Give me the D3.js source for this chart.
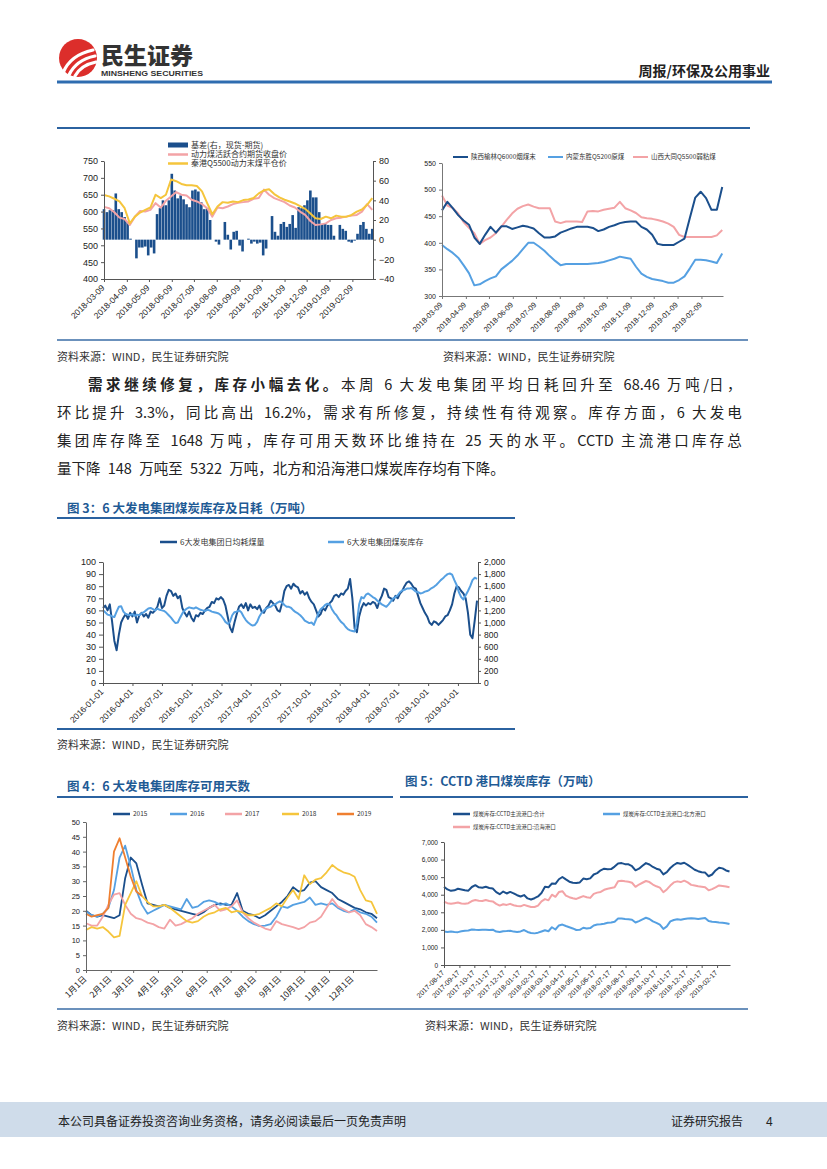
<!DOCTYPE html>
<html><head><meta charset="utf-8">
<script src="https://cdn.jsdelivr.net/npm/d3@7"></script>
<style>body{margin:0;background:#fff}svg{display:block}</style>
</head><body>
<svg id="page" width="827" height="1169"></svg>
<script>
// ---------------- DATA ----------------
// Chart 1: basis & coal prices (from 2018-03-09)
const c1Start = "2018-03-09";
const c1End = "2019-03-09";
const c1Ticks = ["2018-03-09","2018-04-09","2018-05-09","2018-06-09","2018-07-09","2018-08-09","2018-09-09","2018-10-09","2018-11-09","2018-12-09","2019-01-09","2019-02-09"];
const c1Names = ["基差(右，现货-期货)","动力煤活跃合约期货收盘价","秦港Q5500动力末煤平仓价"];
const c1Basis = [31,28,30,30,47,31,28,23,18,1,0,-19,-8,-8,-7,-16,-8,-14,26,32,40,35,40,67,50,42,45,41,36,33,50,51,49,38,31,32,20,0,-2,-5,0,18,5,-10,8,9,-6,-12,0,1,-4,-2,-4,-3,-16,-9,0,24,8,4,16,18,13,16,25,12,33,32,35,40,50,43,43,28,16,16,15,15,4,0,15,11,9,-2,-3,-1,6,15,18,11,6,11];
const c1Futures = [614,610,598,582,578,560,585,602,600,605,625,612,632,645,658,650,648,635,630,622,610,585,612,610,615,622,626,628,630,638,640,665,650,640,634,628,618,612,600,590,572,560,562,565,575,580,582,585,588,590,600,622,605];
const c1Spot = [649,645,638,630,610,565,585,597,605,612,650,640,650,695,690,682,678,678,676,660,625,592,615,628,626,630,628,634,636,640,654,663,666,652,642,635,630,624,616,608,594,580,578,585,580,588,585,585,590,600,606,620,640];

// Chart 2: pit-mouth prices (weekly from 2018-03-09)
const c2Names = ["陕西榆林Q6000烟煤末","内蒙东胜Q5200原煤","山西大同Q5500弱粘煤"];
const c2Shaanxi = [461,477,465,452,442,434,410,398,415,430,419,431,431,426,429,432,430,427,418,410,410,412,419,423,427,430,430,430,428,422,425,430,433,437,439,440,440,430,425,415,398,396,396,396,402,408,447,485,496,484,462,462,505];
const c2Neimeng = [396,388,381,372,358,343,320,322,328,333,337,350,358,366,376,388,400,400,393,385,375,366,358,360,360,360,360,360,361,362,364,367,370,374,372,370,355,342,336,332,330,328,325,325,330,337,352,368,368,367,365,362,380];
const c2Shanxi = [489,470,465,455,439,428,418,398,405,410,418,430,443,455,464,469,472,468,465,465,465,440,437,440,440,440,439,459,460,459,462,464,466,477,465,461,456,448,446,445,443,440,436,430,415,411,411,411,411,411,411,414,424];

// Chart 3: 6 power groups consumption / stock (weekly from 2016-01-01)
const c3Start = "2016-01-01";
const c3End = "2019-03-04";
const c3Ticks = ["2016-01-01","2016-04-01","2016-07-01","2016-10-01","2017-01-01","2017-04-01","2017-07-01","2017-10-01","2018-01-01","2018-04-01","2018-07-01","2018-10-01","2019-01-01"];
const c3Names = ["6大发电集团日均耗煤量","6大发电集团煤炭库存"];
const c3Consumption = [62,64,60,65,51,35,27,40,50,54,57,53,58,55,59,50,56,58,55,57,54,59,58,60,63,70,62,64,72,77,76,72,74,70,72,62,58,55,59,54,51,56,55,58,57,60,62,63,67,66,70,69,71,69,64,55,46,42,50,57,63,65,62,66,60,65,62,63,61,64,59,58,62,64,68,66,64,60,59,66,76,80,81,78,82,80,79,74,76,73,75,70,67,65,60,55,57,62,60,64,66,68,72,73,71,74,73,76,78,86,70,45,42,55,62,66,64,66,65,67,66,62,68,72,78,77,71,70,68,72,70,74,76,80,83,84,82,79,78,72,66,62,58,55,50,48,51,50,48,50,52,55,56,60,65,74,80,79,76,74,70,58,40,37,52,68];
const c3Stock = [1200,1170,1130,1120,1100,1090,1180,1260,1270,1180,1140,1130,1120,1140,1110,1130,1120,1150,1170,1200,1230,1240,1220,1200,1230,1210,1200,1190,1160,1120,1080,1030,990,1000,1080,1150,1200,1230,1250,1240,1230,1250,1230,1210,1200,1190,1210,1200,1180,1170,1160,1150,1120,1070,1010,980,1010,1120,1170,1180,1200,1170,1100,1040,1000,970,950,960,1010,1100,1160,1200,1230,1250,1260,1290,1300,1330,1350,1330,1290,1260,1260,1240,1200,1170,1150,1120,1080,1030,1010,990,1000,960,1050,1150,1220,1250,1290,1310,1300,1220,1160,1120,1060,1010,980,930,890,870,860,850,1000,1300,1420,1400,1460,1480,1450,1420,1400,1360,1330,1300,1280,1260,1300,1350,1400,1420,1450,1500,1530,1540,1560,1560,1570,1540,1510,1500,1480,1490,1510,1520,1540,1570,1590,1620,1660,1700,1730,1770,1800,1810,1790,1700,1620,1500,1420,1380,1450,1520,1600,1700,1740,1720];

// Chart 4: stock days by year (weekly from Jan 1)
const c4Years = ["2015","2016","2017","2018","2019"];
const c4MonthLabels = ["1月1日","2月1日","3月1日","4月1日","5月1日","6月1日","7月1日","8月1日","9月1日","10月1日","11月1日","12月1日"];
const c4y2015 = [20,18.5,18,18.5,18,17.5,18.5,31,38,36,29,22.5,22,21.5,22,21,20.5,20,19.5,19,18.5,19.5,21,22,22.5,22,22,26,20,19,18.5,17.5,18.5,20,21.5,23,25,28,26.5,27,29.5,30,28,27,26,24,23,22,21,20.5,19.5,19,17.5];
const c4y2016 = [19.8,18.5,18,19,21,27,38,42,35,27,22,19,20,21,22,21.5,21,20.5,24,21,21.5,23,23.5,23,22,22.5,21.5,20,18,16.5,15.5,14.8,15,15.5,18,21.5,21,22,22.5,23,24.5,22,22.5,22,22.5,21,20,19.5,20.5,19.5,19,18,16];
const c4y2017 = [15.8,15,15,18,22,25.5,26,22,19,17.5,17,16,15.5,14.5,14,17,15,15.5,16.5,17.5,19,20,21,22,20,20.5,21.5,23.5,19.5,17.5,16,15,14,13.5,16.5,15.5,15,14.5,13.8,14.5,16,16.5,18,21,24,21.5,20.5,19.5,20,18.5,15.5,14.5,13.2];
const c4y2018 = [13.5,14.5,14,14.5,13,11,11.5,22,26,30,25,23,21.5,21.5,22,21,19.5,18,16.5,16,16.5,18,19,19.5,20.5,21,19.5,20,19.5,18.5,18.5,19,20,21,22.5,21.5,24.5,27,24,32,29,30.5,31,33,35.5,34,33,32.5,31.5,27,23.5,23,19];
const c4y2019 = [19,18,18.5,19,21,40,44.5,38,31.5,26.5,25];

// Chart 5: CCTD port stocks (weekly from 2017-08-17)
const c5Start = "2017-08-17";
const c5End = "2019-03-15";
const c5Ticks = ["2017-08-17","2017-09-17","2017-10-17","2017-11-17","2017-12-17","2018-01-17","2018-02-17","2018-03-17","2018-04-17","2018-05-17","2018-06-17","2018-07-17","2018-08-17","2018-09-17","2018-10-17","2018-11-17","2018-12-17","2019-01-17","2019-02-17"];
const c5Names = ["煤炭库存:CCTD主流港口:合计","煤炭库存:CCTD主流港口:北方港口","煤炭库存:CCTD主流港口:沿海港口"];
const c5Total = [4450,4300,4220,4250,4340,4300,4250,4230,4440,4540,4420,4400,4450,4380,4350,4150,4030,4180,4070,4160,4080,3970,3900,3980,3790,3730,3800,3900,4100,4450,4420,4640,4620,4880,5010,4870,4740,4680,4670,4700,4920,4880,4930,5150,5230,5390,5480,5450,5460,5600,5780,5800,5740,5730,5620,5390,5480,5650,5800,5720,5580,5480,5420,5160,5290,5520,5690,5810,5760,5820,5700,5560,5420,5340,5280,5260,5050,5150,5380,5540,5500,5380,5320];
const c5North = [1900,1880,1900,1880,1870,1920,1950,1960,2020,2000,1990,2000,2010,1990,2010,1900,1880,1920,1930,1950,1900,1880,1910,1990,1880,1820,1800,1840,1910,1980,1920,2150,2020,2250,2300,2220,2150,2080,1990,2000,2120,2080,2100,2250,2300,2320,2350,2400,2420,2460,2640,2650,2620,2600,2580,2420,2500,2600,2690,2620,2480,2400,2300,2050,2200,2480,2560,2600,2580,2620,2650,2660,2640,2620,2650,2680,2500,2460,2450,2420,2400,2380,2330];
const c5Coastal = [3600,3520,3480,3520,3560,3500,3480,3520,3640,3700,3660,3640,3700,3640,3620,3480,3380,3460,3420,3480,3400,3360,3340,3420,3360,3300,3300,3380,3620,3750,3680,4000,3880,4150,4200,3950,3860,3800,3760,3840,3920,3860,3820,4050,4120,4160,4280,4340,4380,4420,4760,4790,4760,4740,4680,4450,4580,4680,4780,4720,4580,4480,4400,4140,4300,4520,4700,4760,4720,4800,4700,4560,4520,4480,4450,4420,4250,4320,4420,4530,4500,4470,4430];

// ---------------- RENDER ----------------
const svg = d3.select("#page");
const LAT = "'Liberation Sans','Noto Sans CJK SC',sans-serif";
const CJK = "'Noto Sans CJK SC','Liberation Sans',sans-serif";
const parse = d3.timeParse("%Y-%m-%d");
const BLUE = "#1b4f8c", LBLUE = "#55a0e2", PINK = "#f3a3a6", YEL = "#f5c53c", ORG = "#ef7f30";
const TITLE = "#1f5b95", RULE = "#2b62a0";

function txt(x, y, s, o = {}) {
  return svg.append("text").attr("x", x).attr("y", y).text(s)
    .attr("font-size", o.size || 11).attr("font-family", o.family || CJK)
    .attr("fill", o.fill || "#222").attr("font-weight", o.weight || "normal")
    .attr("text-anchor", o.anchor || "start");
}
function rule(x1, x2, y, w, c) {
  svg.append("line").attr("x1", x1).attr("x2", x2).attr("y1", y).attr("y2", y)
    .attr("stroke", c || RULE).attr("stroke-width", w || 2);
}
function styleAxis(g, size, color) {
  g.attr("font-family", LAT).attr("font-size", size);
  g.select(".domain").attr("stroke", color || "#555");
  g.selectAll(".tick line").attr("stroke", color || "#555");
  g.selectAll(".tick text").attr("fill", "#222");
}
function rotate(g, off) {
  g.selectAll(".tick text").attr("text-anchor", "end").attr("x", -2).attr("y", 0)
    .attr("dy", "0.35em").attr("transform", `translate(0,${off}) rotate(-45)`);
}
function weekDates(start, n, step) {
  return d3.range(n).map(i => d3.timeDay.offset(parse(start), (step || 7) * i));
}
function drawLine(vals, dates, x, y, color, w) {
  const line = d3.line().x((d, i) => x(dates[i])).y(d => y(d));
  svg.append("path").datum(vals).attr("d", line).attr("fill", "none")
    .attr("stroke", color).attr("stroke-width", w || 2).attr("stroke-linejoin", "round");
}
function legLine(x, y, len, color, label, size, w) {
  svg.append("line").attr("x1", x).attr("x2", x + len).attr("y1", y).attr("y2", y)
    .attr("stroke", color).attr("stroke-width", w || 2.5);
  txt(x + len + 3, y + size * 0.36, label, { size: size, fill: "#333" });
}

// ---- Header ----
svg.append("circle").attr("cx", 78).attr("cy", 58).attr("r", 19).attr("fill", "#dc2e2b");
[[63, 73, 70, 55, 93, 50], [69, 75, 76, 60, 95, 56], [75, 76, 81, 65, 96, 62]].forEach(p => {
  svg.append("path").attr("d", `M${p[0]},${p[1]} Q${p[2]},${p[3]} ${p[4]},${p[5]}`)
    .attr("fill", "none").attr("stroke", "#fff").attr("stroke-width", 3.2).attr("stroke-linecap", "round");
});
txt(101, 64, "民生证券", { size: 23, weight: 900, fill: "#333" });
txt(101, 76, "MINSHENG SECURITIES", { size: 8, weight: "bold", fill: "#333", family: LAT }).attr("textLength", 102).attr("lengthAdjust", "spacingAndGlyphs");
txt(770, 76, "周报/环保及公用事业", { size: 14, weight: "bold", anchor: "end", fill: "#222" });
rule(57, 772, 82, 3, "#2e6cb0");
rule(57, 750, 128, 2);

// ---- Chart 1 ----
{
  const x = d3.scaleTime().domain([parse(c1Start), parse(c1End)]).range([104, 373]);
  const yL = d3.scaleLinear().domain([400, 750]).range([279, 161]);
  const yR = d3.scaleLinear().domain([-40, 80]).range([279, 161]);
  const barDates = weekDates(c1Start, c1Basis.length, 4);
  svg.append("g").selectAll("rect").data(c1Basis).join("rect")
    .attr("x", (d, i) => x(barDates[i]) - 1.3).attr("width", 2.6)
    .attr("y", d => yR(Math.max(0, d))).attr("height", d => Math.abs(yR(d) - yR(0)))
    .attr("fill", BLUE);
  const lineDates = weekDates(c1Start, c1Spot.length, 7);
  drawLine(c1Futures, lineDates, x, yL, PINK, 2);
  drawLine(c1Spot, lineDates, x, yL, YEL, 2);
  const gl = svg.append("g").attr("transform", "translate(104,0)")
    .call(d3.axisLeft(yL).tickValues(d3.range(400, 751, 50)).tickSize(3).tickSizeOuter(0));
  styleAxis(gl, 9);
  const gr = svg.append("g").attr("transform", "translate(373,0)")
    .call(d3.axisRight(yR).tickValues(d3.range(-40, 81, 20)).tickSize(3).tickSizeOuter(0));
  styleAxis(gr, 9);
  const gx = svg.append("g").attr("transform", "translate(0,279)")
    .call(d3.axisBottom(x).tickValues(c1Ticks.map(parse)).tickFormat(d3.timeFormat("%Y-%m-%d")).tickSize(3).tickSizeOuter(0));
  styleAxis(gx, 8.5);
  rotate(gx, 6);
  svg.append("rect").attr("x", 168).attr("y", 142.5).attr("width", 20).attr("height", 5).attr("fill", BLUE);
  txt(191, 148, c1Names[0], { size: 8, fill: "#333" });
  legLine(168, 154.5, 20, PINK, c1Names[1], 8, 2.5);
  legLine(168, 163.5, 20, YEL, c1Names[2], 8, 2.5);
}

// ---- Chart 2 ----
{
  const x = d3.scaleTime().domain([parse(c1Start), parse(c1End)]).range([442, 723]);
  const y = d3.scaleLinear().domain([300, 550]).range([296, 163]);
  const dates = weekDates(c1Start, c2Shaanxi.length, 7);
  drawLine(c2Shanxi, dates, x, y, PINK, 2);
  drawLine(c2Neimeng, dates, x, y, LBLUE, 2);
  drawLine(c2Shaanxi, dates, x, y, BLUE, 2);
  const gl = svg.append("g").attr("transform", "translate(442,0)")
    .call(d3.axisLeft(y).tickValues(d3.range(300, 551, 50)).tickSize(3).tickSizeOuter(0));
  styleAxis(gl, 7, "#777");
  const gx = svg.append("g").attr("transform", "translate(0,296)")
    .call(d3.axisBottom(x).tickValues(c1Ticks.map(parse)).tickFormat(d3.timeFormat("%Y-%m-%d")).tickSize(3).tickSizeOuter(0));
  styleAxis(gx, 7.5, "#777");
  rotate(gx, 6);
  legLine(453, 157, 15, BLUE, c2Names[0], 6.5, 2);
  legLine(548, 157, 15, LBLUE, c2Names[1], 6.5, 2);
  legLine(633, 157, 15, PINK, c2Names[2], 6.5, 2);
}
rule(57, 748, 340, 1.5, "#3a6ca6");
txt(57, 361, "资料来源：WIND，民生证券研究院", { size: 11, fill: "#333" });
txt(443, 361, "资料来源：WIND，民生证券研究院", { size: 11, fill: "#333" });

// ---- Paragraph (justified by spacing CJK glyphs only) ----
{
  const lines = [
    [["需求继续修复，库存小幅去化。", "bold"], ["本周 6 大发电集团平均日耗回升至 68.46 万吨/日，", "normal"]],
    [["环比提升 3.3%，同比高出 16.2%，需求有所修复，持续性有待观察。库存方面，6 大发电", "normal"]],
    [["集团库存降至 1648 万吨，库存可用天数环比维持在 25 天的水平。CCTD 主流港口库存总", "normal"]],
    [["量下降 148 万吨至 5322 万吨，北方和沿海港口煤炭库存均有下降。", "normal"]]
  ];
  const ys = [390, 418, 446, 474];
  const isCJK = ch => /[\u3000-\u9fff\uff00-\uffef]/.test(ch);
  lines.forEach((ln, i) => {
    const x0 = i === 0 ? 88 : 57;
    const t = svg.append("text").attr("x", x0).attr("y", ys[i]).attr("font-size", 14.5)
      .attr("font-family", CJK).attr("fill", "#222");
    const cjkSpans = [];
    let nCJK = 0;
    ln.forEach(seg => {
      const runs = seg[0].match(/[\u3000-\u9fff\uff00-\uffef]+|[^\u3000-\u9fff\uff00-\uffef]+/g);
      runs.forEach(r => {
        const sp = t.append("tspan").text(r.replace(/ /g, "\u2002")).attr("font-weight", seg[1]);
        if (isCJK(r[0])) { cjkSpans.push(sp); nCJK += r.length; }
      });
    });
    if (i < 3) {
      const natural = t.node().getComputedTextLength();
      const extra = (745 - x0) - natural;
      if (extra > 0 && nCJK > 0) cjkSpans.forEach(sp => sp.attr("letter-spacing", extra / nCJK));
    }
  });
}

// ---- Chart 3 ----
txt(67, 513, "图 3：6 大发电集团煤炭库存及日耗（万吨）", { size: 12.5, weight: "bold", fill: TITLE });
rule(57, 515, 518, 2);
{
  const x = d3.scaleTime().domain([parse(c3Start), parse(c3End)]).range([103, 478]);
  const yL = d3.scaleLinear().domain([0, 100]).range([683, 562]);
  const yR = d3.scaleLinear().domain([0, 2000]).range([683, 562]);
  const dates = weekDates(c3Start, c3Consumption.length, 7);
  drawLine(c3Consumption, dates, x, yL, BLUE, 2);
  drawLine(c3Stock, dates, x, yR, LBLUE, 2);
  const gl = svg.append("g").attr("transform", "translate(103,0)")
    .call(d3.axisLeft(yL).tickValues(d3.range(0, 101, 10)).tickSize(4).tickSizeOuter(0));
  styleAxis(gl, 9);
  const gr = svg.append("g").attr("transform", "translate(478,0)")
    .call(d3.axisRight(yR).tickValues(d3.range(0, 2001, 200)).tickSize(3).tickSizeOuter(0));
  styleAxis(gr, 8.5);
  const gx = svg.append("g").attr("transform", "translate(0,683)")
    .call(d3.axisBottom(x).tickValues(c3Ticks.map(parse)).tickFormat(d3.timeFormat("%Y-%m-%d")).tickSize(3).tickSizeOuter(0));
  styleAxis(gx, 8.5);
  rotate(gx, 6);
  legLine(160, 542, 17, BLUE, c3Names[0], 8, 2.5);
  legLine(328, 542, 16, LBLUE, c3Names[1], 8, 2.5);
}
rule(57, 515, 729, 2);
txt(57, 749, "资料来源：WIND，民生证券研究院", { size: 11, fill: "#333" });

// ---- Chart 4 ----
txt(67, 791, "图 4：6 大发电集团库存可用天数", { size: 12.5, weight: "bold", fill: TITLE });
rule(57, 393, 797, 2);
{
  const base = "2015-01-01";
  const x = d3.scaleTime().domain([parse(base), parse("2015-12-31")]).range([86, 377]);
  const y = d3.scaleLinear().domain([0, 50]).range([970, 822]);
  const series = [c4y2015, c4y2016, c4y2017, c4y2018, c4y2019];
  const colors = [BLUE, LBLUE, PINK, YEL, ORG];
  series.forEach((s, k) => drawLine(s, weekDates(base, s.length, 7), x, y, colors[k], 1.8));
  const gl = svg.append("g").attr("transform", "translate(86,0)")
    .call(d3.axisLeft(y).tickValues(d3.range(0, 51, 5)).tickSize(3).tickSizeOuter(0));
  styleAxis(gl, 7.5, "#666");
  const months = d3.timeMonths(parse(base), parse("2016-01-01"));
  const gx = svg.append("g").attr("transform", "translate(0,970)")
    .call(d3.axisBottom(x).tickValues(months).tickFormat((d, i) => c4MonthLabels[i]).tickSize(3).tickSizeOuter(0));
  styleAxis(gx, 8.5, "#666");
  gx.attr("font-family", CJK);
  rotate(gx, 6);
  const lx = [113, 170, 225, 282, 337];
  c4Years.forEach((yr, k) => legLine(lx[k], 814, 17, colors[k], yr, 6.5, 2.5));
}

// ---- Chart 5 ----
txt(405, 786, "图 5：CCTD 港口煤炭库存（万吨）", { size: 12.5, weight: "bold", fill: TITLE });
rule(400, 748, 797, 2);
{
  const x = d3.scaleTime().domain([parse(c5Start), parse(c5End)]).range([444, 730]);
  const y = d3.scaleLinear().domain([0, 7000]).range([965, 842]);
  const dates = weekDates(c5Start, c5Total.length, 7);
  drawLine(c5North, dates, x, y, LBLUE, 2);
  drawLine(c5Coastal, dates, x, y, PINK, 2);
  drawLine(c5Total, dates, x, y, BLUE, 2);
  const gl = svg.append("g").attr("transform", "translate(444,0)")
    .call(d3.axisLeft(y).tickValues(d3.range(0, 7001, 1000)).tickSize(3).tickSizeOuter(0));
  styleAxis(gl, 6.5);
  const gx = svg.append("g").attr("transform", "translate(0,965)")
    .call(d3.axisBottom(x).tickValues(c5Ticks.map(parse)).tickFormat(d3.timeFormat("%Y-%m-%d")).tickSize(3).tickSizeOuter(0));
  styleAxis(gx, 7);
  rotate(gx, 5);
  legLine(453, 814, 17, BLUE, c5Names[0], 5.5, 2.5);
  legLine(603, 814, 17, LBLUE, c5Names[1], 5.5, 2.5);
  legLine(453, 827, 17, PINK, c5Names[2], 5.5, 2.5);
}
rule(57, 748, 1009, 1.5, "#3a6ca6");
txt(57, 1030, "资料来源：WIND，民生证券研究院", { size: 11, fill: "#333" });
txt(425, 1030, "资料来源：WIND，民生证券研究院", { size: 11, fill: "#333" });

// ---- Footer ----
svg.append("rect").attr("x", 0).attr("y", 1102).attr("width", 827).attr("height", 35).attr("fill", "#cfdcea");
txt(58, 1126, "本公司具备证券投资咨询业务资格，请务必阅读最后一页免责声明", { size: 12, fill: "#222" });
txt(671, 1126, "证券研究报告", { size: 12, fill: "#222" });
txt(766, 1126, "4", { size: 12, fill: "#222", family: LAT });
</script>
</body></html>
